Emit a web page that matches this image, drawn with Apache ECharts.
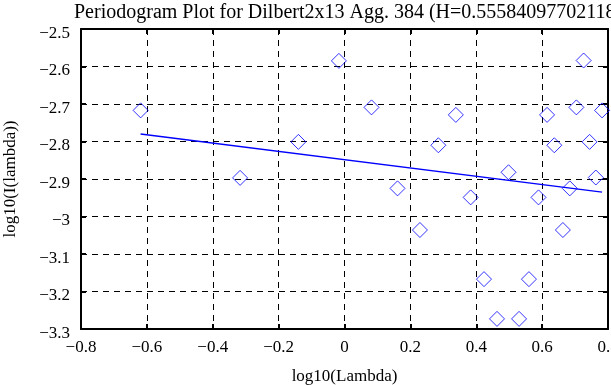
<!DOCTYPE html>
<html><head><meta charset="utf-8">
<script src="https://cdn.jsdelivr.net/npm/echarts@6/dist/echarts.min.js"></script>
<style>html,body{margin:0;padding:0;background:#fff}#c{width:611px;height:385px}</style>
</head><body><div id="c"></div>
<script>
const titleText = "Periodogram Plot for Dilbert2x13 Agg. 384 (H=0.55584097702118)";
const xName = "log10(Lambda)";
const yName = "log10(I(lambda))";
const pointX = [-0.619, -0.317, -0.140, -0.017, 0.082, 0.161, 0.229, 0.285, 0.338, 0.383, 0.4235, 0.463, 0.498, 0.530, 0.560, 0.589, 0.615, 0.637, 0.663, 0.684, 0.704, 0.726, 0.744, 0.763, 0.782];
const pointY = [-2.717, -2.897, -2.801, -2.585, -2.709, -2.925, -3.036, -2.810, -2.729, -2.949, -3.167, -3.273, -2.882, -3.273, -3.167, -2.949, -2.729, -2.810, -3.036, -2.925, -2.709, -2.584, -2.801, -2.896, -2.717];
const fitX = [-0.619, 0.782];
const fitY = [-2.780, -2.935];

const minus = v => { const s = (Math.round(v*10)/10).toString(); return s.replace('-', '\u2212'); };
const font = {fontFamily: 'Liberation Serif', fontSize: 17, color: '#000'};
const chart = echarts.init(document.getElementById('c'), null, {renderer: 'canvas'});
const grid = {left: 81, right: 3, top: 29, bottom: 56, show: false, containLabel: false, outerBoundsMode: 'none'};
const axisCommon = {
  axisLine: {show: true, onZero: false, lineStyle: {color: '#000', width: 2}},
  axisTick: {show: true, inside: true, length: 5, lineStyle: {color: '#000', width: 2}},
};
chart.setOption({
  animation: false,
  backgroundColor: '#fff',
  title: {text: titleText, left: 69, top: -2, textStyle: {fontFamily: 'Liberation Serif', fontSize: 20, fontWeight: 'normal', color: '#000'}},
  grid: grid,
  xAxis: [
    Object.assign({type: 'value', min: -0.8, max: 0.8, interval: 0.2, position: 'bottom',
      name: xName, nameLocation: 'middle', nameGap: 39, nameTextStyle: font,
      axisLabel: Object.assign({formatter: minus, margin: 10, showMaxLabel: true}, font),
      splitLine: {show: true, lineStyle: {color: '#000', type: [6, 5], width: 1}}}, axisCommon),
    Object.assign({type: 'value', min: -0.8, max: 0.8, interval: 0.2, position: 'top',
      axisLabel: {show: false}, splitLine: {show: false}}, axisCommon)
  ],
  yAxis: [
    Object.assign({type: 'value', min: -3.3, max: -2.5, interval: 0.1, position: 'left',
      name: yName, nameLocation: 'middle', nameGap: 62, nameTextStyle: font,
      axisLabel: Object.assign({formatter: minus, margin: 11, verticalAlign: 'top', lineHeight: 9}, font),
      splitLine: {show: true, lineStyle: {color: '#000', type: [6, 5], width: 1}}}, axisCommon),
    Object.assign({type: 'value', min: -3.3, max: -2.5, interval: 0.1, position: 'right',
      axisLabel: {show: false}, splitLine: {show: false}}, axisCommon)
  ],
  series: [
    {type: 'scatter', data: pointX.map((x, i) => [x, pointY[i]]), symbol: 'diamond', symbolSize: [15, 15],
      itemStyle: {color: 'rgba(0,0,0,0)', borderColor: '#0000ff', borderWidth: 1}, z: 3},
    {type: 'line', data: fitX.map((x, i) => [x, fitY[i]]), symbol: 'none',
      lineStyle: {color: '#0000ff', width: 1.5}, z: 4}
  ]
});
</script></body></html>
